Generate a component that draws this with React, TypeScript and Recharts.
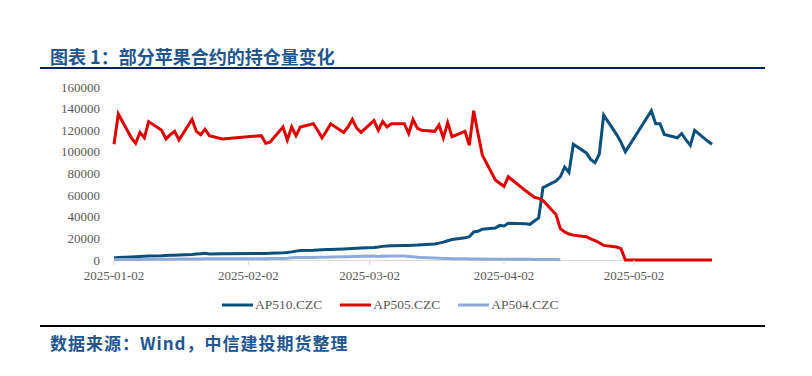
import { LineChart, Line, XAxis, YAxis } from 'recharts';

// trading days, 2025
const dates = [
  '2025-01-02', '2025-01-03', '2025-01-06', '2025-01-07', '2025-01-08', '2025-01-09', '2025-01-10',
  '2025-01-13', '2025-01-14', '2025-01-15', '2025-01-16', '2025-01-17', '2025-01-20', '2025-01-21',
  '2025-01-22', '2025-01-23', '2025-01-24', '2025-01-27',
  '2025-02-05', '2025-02-06', '2025-02-07', '2025-02-10', '2025-02-11', '2025-02-12', '2025-02-13',
  '2025-02-14', '2025-02-17', '2025-02-18', '2025-02-19', '2025-02-20', '2025-02-21', '2025-02-24',
  '2025-02-25', '2025-02-26', '2025-02-27', '2025-02-28',
  '2025-03-03', '2025-03-04', '2025-03-05', '2025-03-06', '2025-03-07', '2025-03-10', '2025-03-11',
  '2025-03-12', '2025-03-13', '2025-03-14', '2025-03-17', '2025-03-18', '2025-03-19', '2025-03-20',
  '2025-03-21', '2025-03-24', '2025-03-25', '2025-03-26', '2025-03-27', '2025-03-28', '2025-03-31',
  '2025-04-01', '2025-04-02', '2025-04-03', '2025-04-07', '2025-04-08', '2025-04-09', '2025-04-10',
  '2025-04-11', '2025-04-14', '2025-04-15', '2025-04-16', '2025-04-17', '2025-04-18', '2025-04-21',
  '2025-04-22', '2025-04-23', '2025-04-24', '2025-04-25', '2025-04-28', '2025-04-29', '2025-04-30',
  '2025-05-06', '2025-05-07', '2025-05-08', '2025-05-09', '2025-05-12', '2025-05-13', '2025-05-14',
  '2025-05-15', '2025-05-16', '2025-05-19', '2025-05-20',
];

const ap510 = [
  1800, 2400, 2800, 3000, 3200, 3400, 3600, 3900, 4100, 4300, 4500, 4700, 5200, 5500, 5800, 6200, 5600, 5800,
  6000, 6100, 6200, 6600, 7000, 7500, 8200, 8700, 9000, 9200, 9400, 9600, 9800, 10200, 10400, 10600, 10800, 11000,
  11600, 12000, 12600, 12900, 13100, 13300, 13400, 13600, 13800, 14100, 14800, 15600, 16500, 17800, 19000, 20500,
  21500, 26000, 26500, 28500, 29500,
  32000, 31500, 34000, 33500, 33000, 36000, 39000, 67000, 73000, 77000, 86000, 81000, 107000, 99000, 93000, 90000,
  98000, 134000, 116000, 109000, 100000,
  138000, 126000, 126000, 116000, 113000, 117000, 111000, 106000, 120000, 110000, 107000,
];

const ap505 = [
  107000, 135000, 113000, 108000, 118000, 113000, 128000, 120000, 112000, 116000, 119000, 111000, 130000, 119000,
  116000, 121000, 115000, 112000,
  115000, 108000, 109000, 123000, 111000, 123000, 115000, 123000, 126000, 120000, 113000, 119000, 126000, 118000,
  123000, 130000, 122000, 118000,
  129000, 120000, 128000, 123000, 126000, 126000, 117000, 130000, 122000, 120000, 119000, 125000, 113000, 127000,
  114000, 119000, 106000, 138000, 117000, 97000, 74000,
  71000, 68000, 77000, 64000, 61000, 58000, 57000, 55000, 42000, 29000, 26000, 24000, 23000, 21500, 19500, 18000,
  16000, 13500, 12000, 10500, 0,
  0, 0, 0, 0, 0, 0, 0, 0, 0, 0, 0,
];

// AP504 stops trading after 2025-04-15
const ap504 = [
  300, 400, 400, 500, 500, 600, 600, 700, 700, 800, 800, 900, 900, 1000, 1000, 1100, 1100, 1100,
  1200, 1200, 1300, 1500, 1700, 2000, 2200, 2300, 2400, 2500, 2500, 2600, 2700, 2900, 3000, 3200, 3300, 3400,
  3600, 3300, 3700, 3500, 3700, 3600, 3300, 3000, 2600, 2200, 1800, 1600, 1400, 1300, 1200, 1100, 1000, 1000,
  900, 900, 800,
  800, 700, 700, 600, 600, 500, 500, 400, 400, 300,
];

const yTicks = [0, 20000, 40000, 60000, 80000, 100000, 120000, 140000, 160000];
const xTickLabels = ['2025-01-02', '2025-02-02', '2025-03-02', '2025-04-02', '2025-05-02'];

const series = [
  { key: 'ap510', name: 'AP510.CZC', color: '#0B4F7D' },
  { key: 'ap505', name: 'AP505.CZC', color: '#E00000' },
  { key: 'ap504', name: 'AP504.CZC', color: '#8EAADC' },
];

const toTime = (d: string) => {
  const [y, m, dd] = d.split('-').map(Number);
  return Date.UTC(y, m - 1, dd);
};
const fmtDate = (t: number) => new Date(t).toISOString().slice(0, 10);

const data = dates.map((d, i) => ({
  t: toTime(d),
  ap510: ap510[i],
  ap505: ap505[i],
  ap504: i < ap504.length ? ap504[i] : null,
}));

const serif = '"Liberation Serif", "Times New Roman", serif';
const cjk = '"Noto Sans CJK SC", sans-serif';
const tickStyle = { fill: '#595959', fontSize: 13, fontFamily: serif };

export default function App() {
  return (
    <div style={{ position: 'absolute', left: 0, top: 0, width: 812, height: 376, background: '#fff', overflow: 'hidden' }}>
      <div style={{ position: 'absolute', left: 50, top: 43, fontFamily: cjk, fontWeight: 700, fontSize: 18, color: '#1F5690', whiteSpace: 'nowrap' }}>
        图表 1：部分苹果合约的持仓量变化
      </div>
      <div style={{ position: 'absolute', left: 40, top: 67, width: 725, height: 2, background: '#002060' }} />

      {/* x axis line sits under the series, as in the source chart */}
      <div style={{ position: 'absolute', left: 114, top: 259.5, width: 598, height: 1, background: '#D9D9D9' }} />

      <LineChart width={812} height={376} data={data} margin={{ top: 87, right: 100, bottom: 86, left: 54 }}>
        <XAxis
          dataKey="t"
          type="number"
          domain={[toTime(dates[0]), toTime(dates[dates.length - 1])]}
          ticks={xTickLabels.map(toTime)}
          tickFormatter={fmtDate}
          interval={0}
          height={30}
          axisLine={false}
          tickLine={{ stroke: '#D9D9D9' }}
          tickSize={5}
          tickMargin={6}
          tick={tickStyle}
        />
        <YAxis
          domain={[0, 160000]}
          ticks={yTicks}
          interval={0}
          width={60}
          axisLine={false}
          tickLine={false}
          tickSize={0}
          tickMargin={14}
          tick={tickStyle}
        />
        {series.map((s) => (
          <Line
            key={s.key}
            dataKey={s.key}
            name={s.name}
            type="linear"
            stroke={s.color}
            strokeWidth={3}
            dot={false}
            activeDot={false}
            isAnimationActive={false}
          />
        ))}
      </LineChart>

      <div style={{ position: 'absolute', left: 222, top: 296, display: 'flex', alignItems: 'center', fontFamily: serif, fontSize: 13.5, color: '#595959' }}>
        {series.map((s) => (
          <div key={s.key} style={{ display: 'flex', alignItems: 'center', marginRight: 18 }}>
            <svg width={32} height={18}>
              <line x1={0} y1={9} x2={31} y2={9} stroke={s.color} strokeWidth={3} />
            </svg>
            <span style={{ marginLeft: 1 }}>{s.name}</span>
          </div>
        ))}
      </div>

      <div style={{ position: 'absolute', left: 40, top: 325, width: 725, height: 1.5, background: '#000' }} />
      <div style={{ position: 'absolute', left: 50, top: 330, fontFamily: cjk, fontWeight: 700, fontSize: 17, letterSpacing: 1, color: '#1F5690', whiteSpace: 'nowrap' }}>
        数据来源：Wind，中信建投期货整理
      </div>
    </div>
  );
}
